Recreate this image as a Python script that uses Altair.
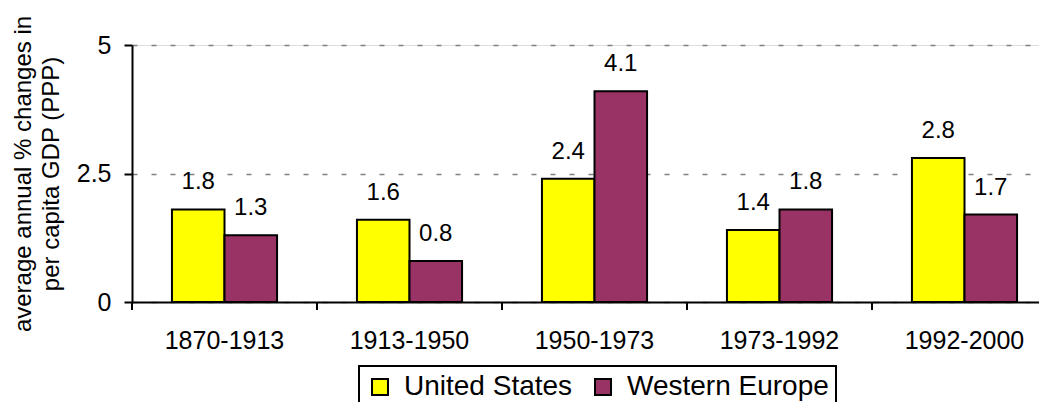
import altair as alt
import pandas as pd

periods = ["1870-1913", "1913-1950", "1950-1973", "1973-1992", "1992-2000"]
series = ["United States", "Western Europe"]
us_values = [1.8, 1.6, 2.4, 1.4, 2.8]
we_values = [1.3, 0.8, 4.1, 1.8, 1.7]
colors = ["#FFFF00", "#993366"]
y_ticks = [0, 2.5, 5]

rows = []
for i, p in enumerate(periods):
    rows.append({"period": p, "series": series[0], "value": us_values[i]})
    rows.append({"period": p, "series": series[1], "value": we_values[i]})
df = pd.DataFrame(rows)
tick_df = pd.DataFrame({"period": periods})

FONT = "Arial, Liberation Sans, sans-serif"

x_scale = alt.Scale(domain=periods, range=[0, 925], paddingInner=0, paddingOuter=0)
x_enc = alt.X(
    "period:N",
    scale=x_scale,
    sort=periods,
    axis=alt.Axis(
        title=None,
        ticks=False,
        labelFontSize=25,
        labelPadding=26,
        labelColor="black",
        labelAngle=0,
        domainColor="black",
        domainWidth=2,
        grid=False,
    ),
)
xoff = alt.XOffset(
    "series:N", sort=series, scale=alt.Scale(paddingOuter=0.76, paddingInner=0)
)
y_enc = alt.Y(
    "value:Q",
    scale=alt.Scale(domain=[0, 5], nice=False),
    axis=alt.Axis(
        values=y_ticks,
        format=".1~f",
        title=["average annual % changes in", "per capita GDP (PPP)"],
        titleFontSize=24,
        titleLineHeight=28,
        titleFontWeight="normal",
        titleColor="black",
        titleAngle=270,
        titleAlign="center",
        titleBaseline="alphabetic",
        titleX=-102,
        titleY=128.5,
        labelFontSize=25,
        labelPadding=13,
        labelColor="black",
        tickSize=8,
        tickColor="black",
        tickWidth=2,
        domainColor="black",
        domainWidth=2,
        grid=True,
        gridColor="#808080",
        gridDash=[5, 14],
        gridWidth=1.5,
    ),
)

bars = alt.Chart(df).mark_bar(stroke="black", strokeWidth=2).encode(
    x=x_enc,
    xOffset=xoff,
    y=y_enc,
    color=alt.Color(
        "series:N",
        sort=series,
        scale=alt.Scale(domain=series, range=colors),
        legend=alt.Legend(
            title=None,
            orient="none",
            legendX=227,
            legendY=321,
            direction="horizontal",
            symbolType="square",
            symbolSize=256,
            symbolStrokeColor="black",
            symbolStrokeWidth=2,
            labelFontSize=28,
            labelLimit=0,
            labelColor="black",
            labelOffset=10,
            columnPadding=16,
            padding=7,
            strokeColor="black",
        ),
    ),
)

labels = alt.Chart(df).mark_text(
    fontSize=24, baseline="alphabetic", dy=-20, color="black", font=FONT
).encode(
    x=alt.X("period:N", scale=x_scale, sort=periods),
    xOffset=xoff,
    y=alt.Y("value:Q"),
    text=alt.Text("value:Q", format=".1f"),
)

ticks = alt.Chart(tick_df).mark_rule(color="black", strokeWidth=2).encode(
    x=alt.X("period:N", scale=x_scale, sort=periods, bandPosition=0),
    y=alt.value(257),
    y2=alt.value(265),
)

chart = (
    alt.layer(bars, labels, ticks)
    .properties(
        width=907,
        height=257,
        autosize=alt.AutoSizeParams(type="none"),
        padding={"left": 124, "top": 37, "right": 0, "bottom": 100},
        background="white",
    )
    .configure_view(stroke=None)
    .configure(font=FONT)
    .configure_legend(strokeWidth=2)
)

chart.save("out.html", embed_options={"renderer": "svg", "actions": False})
